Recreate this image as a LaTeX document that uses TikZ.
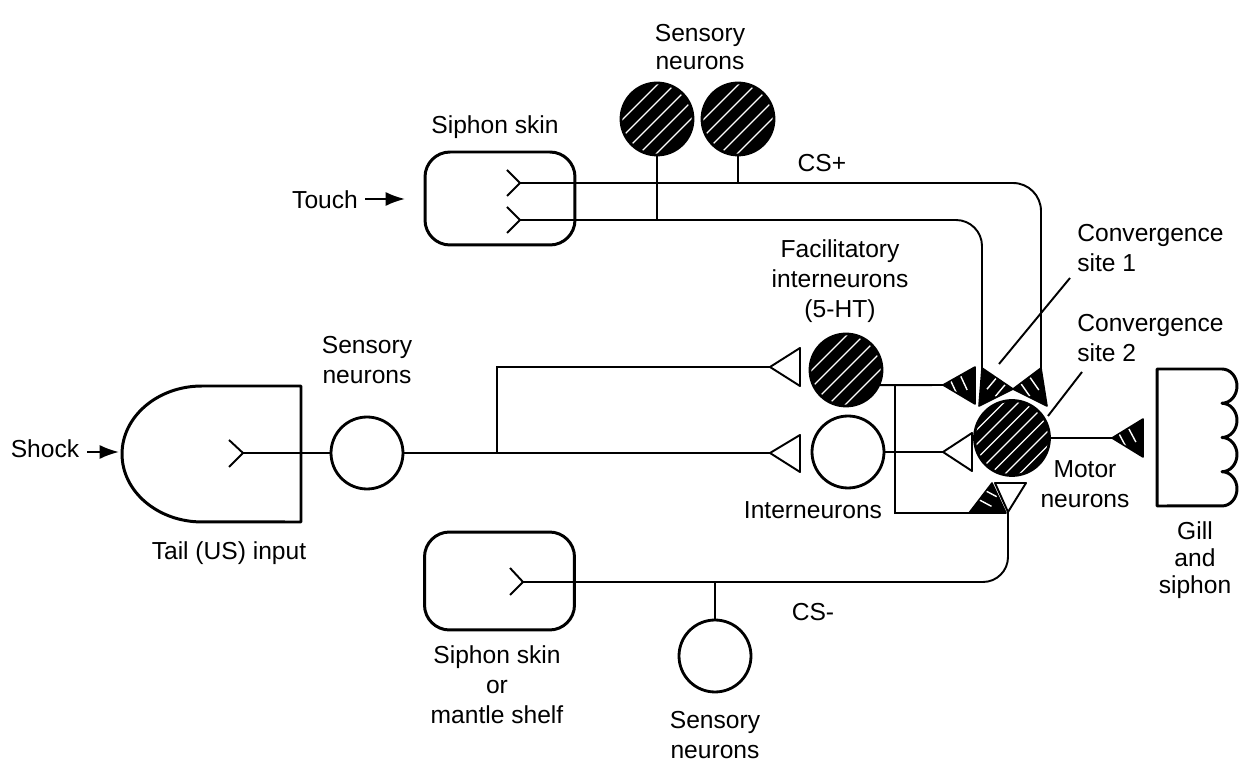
\documentclass[tikz,border=0pt]{standalone}
\usepackage{fontspec}
\setmainfont{Liberation Sans}
\usetikzlibrary{calc,arrows.meta}
\tikzset{
  lbl/.style={align=center, font=\fontsize{14}{17}\selectfont, inner sep=0pt},
  lbltight/.style={align=center, font=\fontsize{14}{15.5}\selectfont, inner sep=0pt},
  axon/.style={line width=1.1pt},
  outline/.style={line width=1.7pt, line join=round},
  skin/.style={draw, rounded corners=0.5cm, line width=1.7pt, minimum width=3cm, inner sep=0pt},
  plaincell/.style={circle, draw=black, line width=1.6pt, inner sep=0pt, minimum size=1.44cm},
  hatchc/.style 2 args={circle, draw=black, fill=black, line width=1.6pt, inner sep=0pt, minimum size=#1,
    path picture={\foreach \d in {-5,...,5}{\draw[white,line width=0.7pt]
      ($(path picture bounding box.center)+(\d*#2,0cm)$) ++(-1cm,-1cm) -- ++(2cm,2cm);}}},
  htri/.style={fill=black, draw=black, line width=0.9pt, line join=round,
    path picture={\foreach \d in {-0.11,0.11}{\draw[white,line width=0.8pt]
      ($(path picture bounding box.center)+(#1+90:\d cm)+(#1:-0.15cm)$) -- ++(#1:0.3cm);}}},
  wtri/.style={fill=white, draw=black, line width=1.1pt, line join=round},
  stim/.style={line width=1.2pt, -{Latex[length=11pt, width=8pt]}},
}
\begin{document}
\begin{tikzpicture}[x=0.02cm, y=-0.02cm]
\useasboundingbox (0,0) rectangle (1249,763);

% ---------- nodes ----------
\node[skin, minimum height=1.86cm] (skinA) at (500,198.5) {};
\node[skin, minimum height=1.96cm] (skinB) at (499.5,581) {};
\node[hatchc={1.44cm}{0.34cm}] (T1) at (657,119) {};
\node[hatchc={1.44cm}{0.34cm}] (T2) at (738,119) {};
\node[plaincell] (S1) at (367,453) {};
\node[hatchc={1.44cm}{0.34cm}] (Fac) at (846,370) {};
\node[plaincell] (Int) at (848,452) {};
\node[hatchc={1.5cm}{0.29cm}] (Mot) at (1012,438) {};
\node[plaincell] (Bs) at (715,656) {};

% tail (US) input
\draw[outline] (301,386) -- (202,386) arc[start angle=90, end angle=270, x radius=1.6cm, y radius=1.36cm] -- (301,522) -- cycle;
% gill and siphon
\draw[outline] (1157,369) -- (1222,369)
  arc[start angle=90, end angle=-90, x radius=0.3cm, y radius=0.3425cm]
  arc[start angle=90, end angle=-90, x radius=0.3cm, y radius=0.3425cm]
  arc[start angle=90, end angle=-90, x radius=0.3cm, y radius=0.3425cm]
  arc[start angle=90, end angle=-90, x radius=0.3cm, y radius=0.3425cm]
  -- (1157,506) -- cycle;

% ---------- coordinates ----------
\coordinate (fA) at (520,183);
\coordinate (fB) at (520,220);
\coordinate (fT) at (243,453);
\coordinate (fC) at (523,582);
\coordinate (wFac) at (770,367);
\coordinate (wInt) at (770,453);
\coordinate (br) at (497,453);
\coordinate (tA) at (943,385);
\coordinate (tB) at (982,368);
\coordinate (tC) at (1041,368);
\coordinate (tD) at (943,452);
\coordinate (tE) at (969,513);
\coordinate (tF) at (1008,512);
\coordinate (tG) at (1112,438);
\coordinate (fb) at (895,385);

% ---------- receptor forks ----------
\draw[axon] (fA) ++(-13,-13) -- (fA) -- ++(-13,13);
\draw[axon] (fB) ++(-13,-13) -- (fB) -- ++(-13,13);
\draw[axon] (fT) ++(-14,-13) -- (fT) -- ++(-14,14);
\draw[axon] (fC) ++(-13,-14) -- (fC) -- ++(-13,13);

% ---------- axons ----------
\draw[axon, rounded corners=0.56cm] (fA) -- (tC |- fA) -- (tC);
\draw[axon, rounded corners=0.52cm] (fB) -- (tB |- fB) -- (tB);
\draw[axon] (T1.south) -- (T1.south |- fB);
\draw[axon] (T2.south) -- (T2.south |- fA);
\draw[axon] (fT) -- (S1.west);
\draw[axon] (S1.east) -- (wInt);
\draw[axon] (br) -- (br |- wFac) -- (wFac);
\draw[axon] (Fac.-24) -- (tA);
\draw[axon] (fb) |- (tE);
\draw[axon] (Int.east) -- (tD);
\draw[axon] (Mot.east) -- (tG);
\draw[axon, rounded corners=0.5cm] (tF) -- (tF |- fC) -- (fC);
\draw[axon] (Bs.north) -- (Bs.north |- fC);

% ---------- synaptic terminals ----------
\path[wtri] (wFac) -- (800,348) -- (800,386) -- cycle;
\path[wtri] (wInt) -- (800,435) -- (800,472) -- cycle;
\path[htri=-65] (tA) -- (975,367) -- (975,404) -- cycle;
\path[htri=50] (tB) -- (979,406) -- (1013,389) -- cycle;
\path[htri=-55] (tC) -- (1013,389) -- (1047,406) -- cycle;
\path[wtri] (tD) -- (972,433) -- (972,471) -- cycle;
\path[htri=-28] (tE) -- (992,483) -- (1006,513) -- cycle;
\path[wtri] (995,483) -- (1026,483) -- (tF) -- cycle;
\path[htri=-62] (tG) -- (1143,419) -- (1143,457) -- cycle;

% ---------- pointer lines ----------
\draw[axon] (1070,278) -- (999,364);
\draw[axon] (1082,372) -- (1048,416);

% ---------- stimulus arrows ----------
\node[lbl] (touch) at (325,200) {Touch};
\draw[stim] (365,199) -- (405,199);
\node[lbl] (shock) at (45,449) {Shock};
\draw[stim] (87,452) -- (119,452);

% ---------- labels ----------
\node[lbltight] (lSensTop) at (700,47) {Sensory\\neurons};
\node[lbl] (lSkinA) at (495,127) {Siphon skin};
\node[lbl] (lCSp) at (822,163) {CS+};
\node[lbl] (lFac) at (840,281) {Facilitatory\\interneurons\\(5-HT)};
\node[lbl, align=left, anchor=west] (lCv1) at (1077,248) {Convergence\\site 1};
\node[lbl, align=left, anchor=west] (lCv2) at (1077,338) {Convergence\\site 2};
\node[lbl] (lSensL) at (367,360) {Sensory\\neurons};
\node[lbl] (lTail) at (229,553) {Tail (US) input};
\node[lbl] (lInt) at (813,510) {Interneurons};
\node[lbl] (lMot) at (1085,484) {Motor\\neurons};
\node[lbltight] (lGill) at (1195,560) {Gill\\and\\siphon};
\node[lbl] (lSkinB) at (497,685) {Siphon skin\\or\\mantle shelf};
\node[lbl] (lSensB) at (715,735) {Sensory\\neurons};
\node[lbl] (lCSm) at (813,612) {CS-};
\end{tikzpicture}
\end{document}
